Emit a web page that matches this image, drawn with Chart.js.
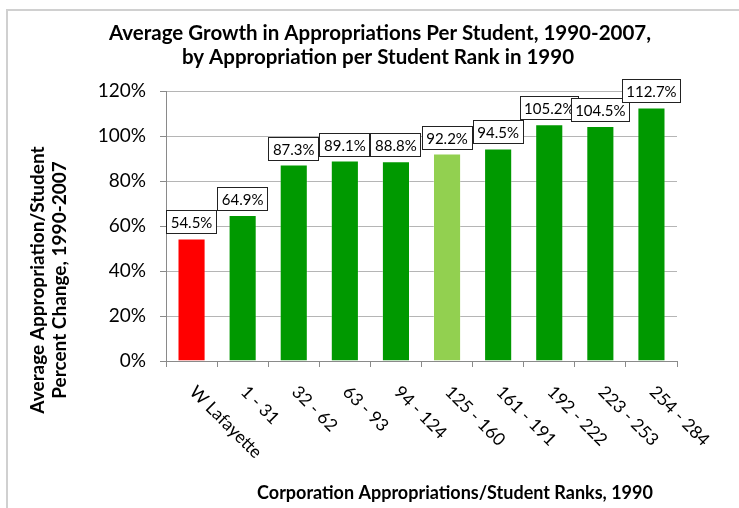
<!DOCTYPE html>
<html>
<head>
<meta charset="utf-8">
<script src="https://cdn.jsdelivr.net/npm/chart.js@4"></script>
<style>
  body { margin: 0; background: #fff; }
  #wrap { position: relative; width: 739px; height: 508px; overflow: hidden; }
  #frame { position: absolute; left: 6px; top: 9px; width: 800px; height: 600px; border: 2px solid #d0d0d0; }
  canvas { position: absolute; left: 0; top: 0; }
</style>
</head>
<body>
<div id="wrap">
  <div id="frame"></div>
  <canvas id="myChart" width="739" height="508"></canvas>
</div>
<script>
const ranks = ['W Lafayette', '1 - 31', '32 - 62', '63 - 93', '94 - 124', '125 - 160', '161 - 191', '192 - 222', '223 - 253', '254 - 284'];
const growth = [54.5, 64.9, 87.3, 89.1, 88.8, 92.2, 94.5, 105.2, 104.5, 112.7];
const barColors = ['#ff0000', '#009900', '#009900', '#009900', '#009900', '#92d050', '#009900', '#009900', '#009900', '#009900'];
const titleLines = ['Average Growth in Appropriations Per Student, 1990-2007,', 'by Appropriation per Student Rank in 1990'];
const yTitleLines = ['Average Appropriation/Student', 'Percent Change, 1990-2007'];
const xTitle = 'Corporation Appropriations/Student Ranks, 1990';

const FONT = 'Lato, "Open Sans", sans-serif';

// value boxes, rotated category labels and the titles
const extras = {
  id: 'extras',
  afterDatasetsDraw(chart) {
    const ctx = chart.ctx;
    const meta = chart.getDatasetMeta(0);
    ctx.save();
    ctx.font = '15px ' + FONT;
    meta.data.forEach((bar, i) => {
      const text = growth[i].toFixed(1) + '%';
      const w = Math.round(ctx.measureText(text).width + 9);
      const h = 24;
      const x = Math.round(bar.x - w / 2);
      const y = Math.round(bar.y - 4 - h);
      ctx.fillStyle = '#fff';
      ctx.fillRect(x, y, w, h);
      ctx.strokeStyle = '#222';
      ctx.lineWidth = 1;
      ctx.strokeRect(x + 0.5, y + 0.5, w - 1, h - 1);
      ctx.fillStyle = '#000';
      ctx.textAlign = 'center';
      ctx.textBaseline = 'middle';
      ctx.fillText(text, bar.x, y + h / 2 + 1);
    });
    ctx.restore();
  },
  afterDraw(chart) {
    const ctx = chart.ctx;
    const xs = chart.scales.x;
    const area = chart.chartArea;
    ctx.save();
    ctx.fillStyle = '#000';

    // category labels, reading down to the right
    ctx.font = '17.5px ' + FONT;
    ctx.textAlign = 'left';
    ctx.textBaseline = 'middle';
    ranks.forEach((r, i) => {
      ctx.save();
      ctx.translate(xs.getPixelForValue(i) + 1, area.bottom + 28);
      ctx.rotate(Math.PI / 4);
      ctx.fillText(r, 0, 0);
      ctx.restore();
    });

    // main title
    ctx.font = 'bold 20.5px ' + FONT;
    ctx.textAlign = 'center';
    ctx.fillText(titleLines[0], 380, 33);
    ctx.fillText(titleLines[1], 378, 57);

    // x title
    ctx.font = 'bold 18px ' + FONT;
    ctx.fillText(xTitle, 455, 493);

    // y title
    ctx.font = 'bold 19px ' + FONT;
    ctx.save();
    ctx.translate(38, 280);
    ctx.rotate(-Math.PI / 2);
    ctx.fillText(yTitleLines[0], 0, 0);
    ctx.fillText(yTitleLines[1], 0, 22);
    ctx.restore();

    ctx.restore();
  }
};

const ctx = document.getElementById('myChart').getContext('2d');
new Chart(ctx, {
  type: 'bar',
  data: {
    labels: ranks,
    datasets: [{
      data: growth,
      backgroundColor: barColors,
      borderColor: 'rgba(255,255,255,0.25)',
      borderWidth: 1,
      barPercentage: 0.55,
      categoryPercentage: 1
    }]
  },
  options: {
    responsive: false,
    animation: false,
    layout: { padding: { top: 91, right: 62, left: 0, bottom: 0 } },
    plugins: {
      legend: { display: false },
      tooltip: { enabled: false }
    },
    scales: {
      x: {
        grid: { drawOnChartArea: false, color: '#8a8a8a', tickLength: 6 },
        border: { color: '#8a8a8a' },
        ticks: { display: false },
        afterFit(scale) { scale.height = 147; }
      },
      y: {
        min: 0,
        max: 120,
        grid: { color: '#b5b5b5', tickColor: '#8a8a8a', tickLength: 6 },
        border: { color: '#8a8a8a' },
        ticks: {
          stepSize: 20,
          padding: 14,
          color: '#000',
          font: { family: FONT, size: 19 },
          callback: (v) => v + '%'
        },
        afterFit(scale) { scale.width = 166; }
      }
    }
  },
  plugins: [extras]
});
</script>
</body>
</html>
